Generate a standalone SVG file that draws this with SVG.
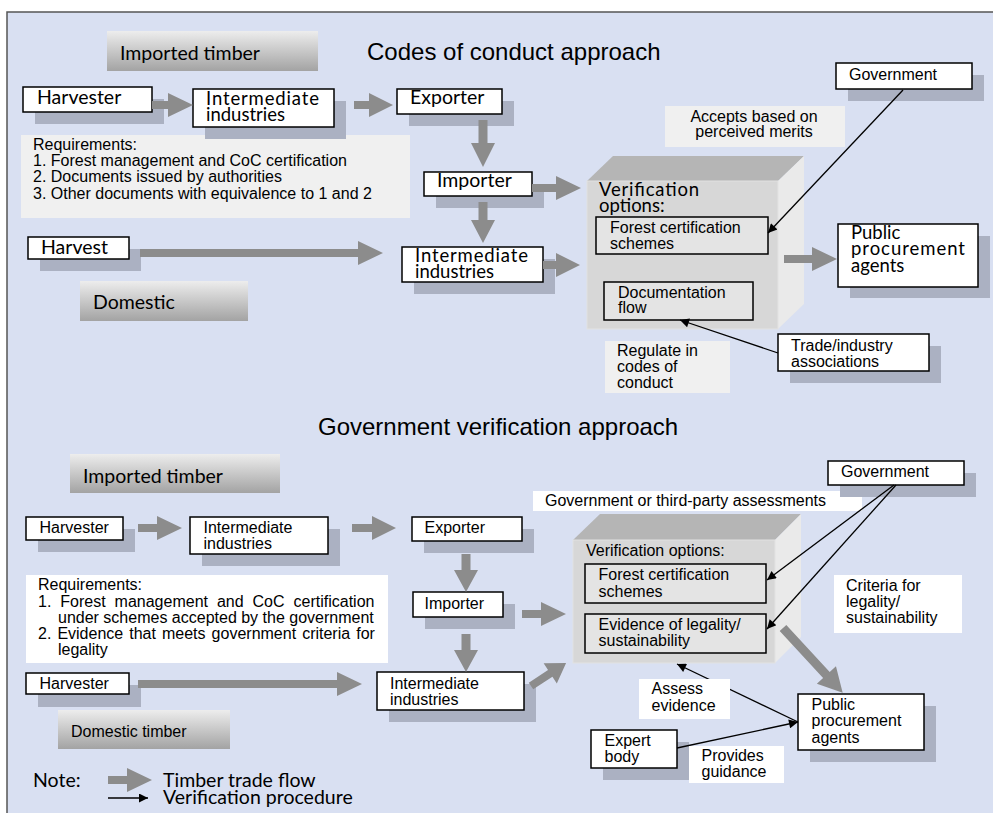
<svg xmlns="http://www.w3.org/2000/svg" width="993" height="813" viewBox="0 0 993 813">
<defs>
<linearGradient id="grad" x1="0" y1="0" x2="0" y2="1">
<stop offset="0" stop-color="#EDEDED"/>
<stop offset="1" stop-color="#A3A3A3"/>
</linearGradient>
<marker id="ah" viewBox="0 0 10 10" refX="10" refY="5" markerWidth="12" markerHeight="9" markerUnits="userSpaceOnUse" orient="auto">
<path d="M0,0 L10,5 L0,10 z" fill="#000"/>
</marker>
<style>
.node{fill:#fff;stroke:#000;stroke-width:1.5}
.inner{fill:#E4E4E4;stroke:#000;stroke-width:1.5}
.shadow{fill:#ABB1C2}
.flow{fill:#8C8C8C}
.vp{stroke:#000;stroke-width:1.3;fill:none;marker-end:url(#ah)}
.a{font-family:"Liberation Sans",Arial,sans-serif;font-size:16px;fill:#000}
.c{font-family:Lato,"Open Sans",sans-serif;font-size:19.5px;fill:#000}
.c2{font-family:Lato,"Open Sans",sans-serif;font-size:18.5px;fill:#000}
.t{font-family:"Liberation Sans",Arial,sans-serif;font-size:24px;fill:#000}
.gl{fill:url(#grad)}
.lg{fill:#F0F0F0}
.lw{fill:#FFFFFF}
</style>
</defs>

<rect x="7" y="12" width="992" height="806" fill="#D9E0F2" stroke="#555" stroke-width="1.5"/>

<!-- ===== Top section ===== -->
<text class="t" x="367" y="60">Codes of conduct approach</text>

<g id="imported-top"><rect class="gl" x="107" y="31" width="211" height="40"/><text class="c" x="120" y="60" font-size="20">Imported timber</text></g>
<g id="domestic-top"><rect class="gl" x="80" y="281" width="168" height="40"/><text class="c" x="93" y="309" font-size="20">Domestic</text></g>

<g id="req-top"><rect class="lg" x="21" y="135" width="389" height="83"/>
<text class="a" x="33" y="150">Requirements:</text>
<text class="a" x="33" y="166">1. Forest management and CoC certification</text>
<text class="a" x="33" y="182">2. Documents issued by authorities</text>
<text class="a" x="33" y="199">3. Other documents with equivalence to 1 and 2</text></g>

<g id="accepts-label"><rect class="lg" x="665" y="106" width="180" height="41"/>
<text class="a" x="754" y="122" text-anchor="middle">Accepts based on</text>
<text class="a" x="754" y="137" text-anchor="middle">perceived merits</text></g>

<g id="regulate-label"><rect class="lg" x="605" y="341" width="125" height="52"/>
<text class="a" x="617" y="356">Regulate in</text>
<text class="a" x="617" y="372">codes of</text>
<text class="a" x="617" y="388">conduct</text></g>

<g id="harvester-top"><rect class="shadow" x="35" y="99" width="129" height="25"/><rect class="node" x="23" y="87" width="129" height="25"/><text class="c" x="37" y="104">Harvester</text></g>
<g id="intermediate-top"><rect class="shadow" x="205" y="101" width="141" height="38"/><rect class="node" x="193" y="89" width="141" height="38"/><text class="c2" x="206" y="105" textLength="113">Intermediate</text><text class="c2" x="206" y="121">industries</text></g>
<g id="exporter-top"><rect class="shadow" x="409" y="101" width="105" height="25"/><rect class="node" x="397" y="89" width="105" height="25"/><text class="c" x="410" y="104">Exporter</text></g>
<g id="importer-top"><rect class="shadow" x="436" y="184" width="108" height="24"/><rect class="node" x="424" y="172" width="108" height="24"/><text class="c" x="437" y="187">Importer</text></g>
<g id="intermediate-mid-top"><rect class="shadow" x="414" y="259" width="141" height="35"/><rect class="node" x="402" y="247" width="141" height="35"/><text class="c2" x="415" y="262" textLength="113">Intermediate</text><text class="c2" x="415" y="278">industries</text></g>
<g id="harvest-top"><rect class="shadow" x="40" y="249" width="101" height="22"/><rect class="node" x="28" y="237" width="101" height="22"/><text class="c" x="41" y="254">Harvest</text></g>
<g id="government-top"><rect class="shadow" x="848" y="75" width="136" height="26"/><rect class="node" x="836" y="63" width="136" height="26"/><text class="a" x="849" y="79.5">Government</text></g>
<g id="public-top"><rect class="shadow" x="850" y="236" width="140" height="62"/><rect class="node" x="838" y="224" width="140" height="63"/><text class="c2" x="851" y="238.5">Public</text><text class="c2" x="851" y="255" textLength="114">procurement</text><text class="c2" x="851" y="271.5">agents</text></g>
<g id="trade-top"><rect class="shadow" x="790" y="346" width="151" height="37"/><rect class="node" x="778" y="334" width="151" height="37"/><text class="a" x="791" y="350.5">Trade/industry</text><text class="a" x="791" y="366.5">associations</text></g>

<g id="verification-top">
<polygon points="587,181 613,156 804,156 778,181" fill="#B5B5B5"/>
<polygon points="778,181 804,156 804,304 778,329" fill="#EAEAEA"/>
<rect x="587" y="181" width="191" height="148" fill="#D7D7D7" stroke="#E2E2E2" stroke-width="1"/>
<text class="c2" x="599" y="196" textLength="100">Verification</text>
<text class="c2" x="599" y="212">options:</text>
<g id="forest-top"><rect class="inner" x="596" y="217" width="172" height="37"/><text class="a" x="610" y="233">Forest certification</text><text class="a" x="610" y="249">schemes</text></g>
<g id="documentation-top"><rect class="inner" x="604" y="282" width="149" height="38"/><text class="a" x="618" y="297.5">Documentation</text><text class="a" x="618" y="313">flow</text></g>
</g>

<!-- ===== Bottom section ===== -->
<text class="t" x="318" y="435">Government verification approach</text>

<g id="imported-bottom"><rect class="gl" x="70" y="454" width="210" height="39"/><text class="c" x="83" y="483" font-size="20">Imported timber</text></g>
<g id="domestic-bottom"><rect class="gl" x="58" y="710" width="172" height="39"/><text class="a" x="71" y="736.5">Domestic timber</text></g>

<g id="req-bottom"><rect class="lw" x="26" y="575" width="362" height="88"/>
<text class="a" x="38" y="590">Requirements:</text>
<text class="a" x="38" y="606.5" word-spacing="4.5">1. Forest management and CoC certification</text>
<text class="a" x="58" y="622.5">under schemes accepted by the government</text>
<text class="a" x="38" y="639" word-spacing="1.6">2. Evidence that meets government criteria for</text>
<text class="a" x="58" y="655">legality</text></g>

<g id="gov-third-label"><rect class="lw" x="533" y="491" width="329" height="20"/><text class="a" x="545" y="506">Government or third-party assessments</text></g>
<g id="criteria-label"><rect class="lw" x="834" y="575" width="128" height="58"/>
<text class="a" x="846" y="590.5">Criteria for</text>
<text class="a" x="846" y="606.5">legality/</text>
<text class="a" x="846" y="622.5">sustainability</text></g>

<g id="harvester-bottom"><rect class="shadow" x="38" y="529" width="97" height="23"/><rect class="node" x="26" y="517" width="97" height="23"/><text class="a" x="39.5" y="532.5">Harvester</text></g>
<g id="intermediate-bottom"><rect class="shadow" x="202" y="529" width="138" height="37"/><rect class="node" x="190" y="517" width="138" height="37"/><text class="a" x="203.5" y="532.5">Intermediate</text><text class="a" x="203.5" y="548.5">industries</text></g>
<g id="exporter-bottom"><rect class="shadow" x="424" y="529" width="110" height="24"/><rect class="node" x="412" y="517" width="110" height="24"/><text class="a" x="424.5" y="532.5">Exporter</text></g>
<g id="importer-bottom"><rect class="shadow" x="425" y="604" width="90" height="25"/><rect class="node" x="413" y="592" width="90" height="25"/><text class="a" x="424.5" y="608.5">Importer</text></g>
<g id="intermediate-mid-bottom"><rect class="shadow" x="389" y="684" width="147" height="38"/><rect class="node" x="377" y="672" width="147" height="38"/><text class="a" x="390" y="688.5">Intermediate</text><text class="a" x="390" y="704.5">industries</text></g>
<g id="harvester-dom-bottom"><rect class="shadow" x="38" y="685" width="103" height="22"/><rect class="node" x="26" y="673" width="103" height="21"/><text class="a" x="39.5" y="688.5">Harvester</text></g>
<g id="government-bottom"><rect class="shadow" x="840" y="473" width="136" height="24"/><rect class="node" x="828" y="461" width="136" height="24"/><text class="a" x="841" y="476.5">Government</text></g>
<g id="public-bottom"><rect class="shadow" x="810" y="706" width="126" height="56"/><rect class="node" x="798" y="694" width="126" height="56"/><text class="a" x="811.5" y="710">Public</text><text class="a" x="811.5" y="726">procurement</text><text class="a" x="811.5" y="743">agents</text></g>
<g id="expert-bottom"><rect class="shadow" x="603" y="742" width="86" height="38"/><rect class="node" x="591" y="730" width="86" height="38"/><text class="a" x="604.5" y="745.5">Expert</text><text class="a" x="604.5" y="761.5">body</text></g>

<g id="verification-bottom">
<polygon points="573,540 600,514 801,514 775,540" fill="#B5B5B5"/>
<polygon points="775,540 801,514 801,637 775,663" fill="#EAEAEA"/>
<rect x="573" y="540" width="202" height="123" fill="#D7D7D7" stroke="#E2E2E2" stroke-width="1"/>
<text class="a" x="586" y="555.5">Verification options:</text>
<g id="forest-bottom"><rect class="inner" x="585" y="564" width="181" height="39"/><text class="a" x="598.5" y="580">Forest certification</text><text class="a" x="598.5" y="596.5">schemes</text></g>
<g id="evidence-bottom"><rect class="inner" x="585" y="614" width="181" height="39"/><text class="a" x="598.5" y="630">Evidence of legality/</text><text class="a" x="598.5" y="646">sustainability</text></g>
</g>

<!-- ===== Connectors ===== -->
<g id="connectors">
<polygon class="flow" points="152,101 168,101 168,93 193,105 168,117 168,109 152,109"/>
<polygon class="flow" points="354,101 369,101 369,93 393,105 369,117 369,109 354,109"/>
<polygon class="flow" points="478.5,120 487.5,120 487.5,143 495,143 483,167 471,143 478.5,143"/>
<polygon class="flow" points="532,184 556,184 556,176 581,188 556,200 556,192 532,192"/>
<polygon class="flow" points="478.5,202 487.5,202 487.5,220 495,220 483,243 471,220 478.5,220"/>
<polygon class="flow" points="140,249 358,249 358,241 383,253 358,265 358,257 140,257"/>
<polygon class="flow" points="543,261 556,261 556,253 580,265 556,277 556,269 543,269"/>
<polygon class="flow" points="784,255 812,255 812,247 837,259 812,271 812,263 784,263"/>
<line class="vp" x1="903" y1="90" x2="768" y2="233"/>
<line class="vp" x1="778" y1="353" x2="680" y2="320"/>

<polygon class="flow" points="138,524 157,524 157,516 182,528 157,540 157,532 138,532"/>
<polygon class="flow" points="352,524 372,524 372,516 396,528 372,540 372,532 352,532"/>
<polygon class="flow" points="461.5,554 470.5,554 470.5,570 478,570 466,592 454,570 461.5,570"/>
<polygon class="flow" points="522,610 541,610 541,602 566,614 541,626 541,618 522,618"/>
<polygon class="flow" points="461.5,634 470.5,634 470.5,650 478,650 466,672 454,650 461.5,650"/>
<polygon class="flow" points="138,680 337,680 337,672 362,684 337,696 337,688 138,688"/>
<polygon class="flow" transform="translate(531,686) rotate(-33.3)" points="0,-4 23,-4 23,-12 42,0 23,12 23,4 0,4"/>
<polygon class="flow" transform="translate(783,628) rotate(47.3)" points="0,-4.5 64,-4.5 64,-13 88,0 64,13 64,4.5 0,4.5"/>
<line class="vp" x1="894" y1="485" x2="767" y2="580"/>
<line class="vp" x1="896" y1="485" x2="767" y2="629"/>
<line class="vp" x1="798" y1="722" x2="677" y2="664"/>
<line class="vp" x1="677" y1="748" x2="798" y2="722"/>
</g>

<g id="assess-label"><rect class="lw" x="639" y="679" width="91" height="40"/><text class="a" x="651.5" y="694">Assess</text><text class="a" x="651.5" y="710.5">evidence</text></g>
<g id="provides-label"><rect class="lw" x="689" y="746" width="95" height="37"/><text class="a" x="701.5" y="760.5">Provides</text><text class="a" x="701.5" y="777">guidance</text></g>

<!-- ===== Legend ===== -->
<g id="legend">
<text class="c" x="33" y="786.5" font-size="20">Note:</text>
<polygon class="flow" points="108,776 127,776 127,768 152,780 127,792 127,784 108,784"/>
<text class="c" x="163" y="786.5" font-size="20">Timber trade flow</text>
<line class="vp" x1="108" y1="798" x2="148" y2="798"/>
<text class="c" x="163" y="804" font-size="20">Verification procedure</text>
</g>
</svg>
